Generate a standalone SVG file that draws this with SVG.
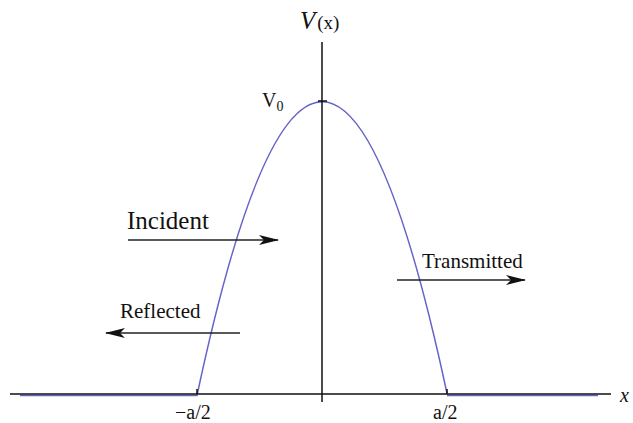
<svg xmlns="http://www.w3.org/2000/svg" width="633" height="423" viewBox="0 0 633 423">
<style>
text{font-family:"Liberation Serif","Times New Roman",serif;fill:#111}
.ax{stroke:#111;stroke-width:1.5;fill:none}
.cv{stroke:#6464c8;stroke-width:1.5;fill:none}
.ar{stroke:#222;stroke-width:1.5;fill:none;marker-end:url(#ah)}
</style>
<defs>
<marker id="ah" viewBox="0 0 20 10" refX="19" refY="5" markerWidth="20" markerHeight="10" markerUnits="userSpaceOnUse" orient="auto">
<path d="M0,0 L20,5 L0,10 L5,5 Z" fill="#111"/>
</marker>
</defs>
<rect width="633" height="423" fill="#fff"/>
<g id="curve">
<path class="cv" d="M20,395.5 H197 Q322,-191 447,393.5 M447,395.5 H598"/>
</g>
<g id="axes">
<path class="ax" d="M10,394 H611"/>
<path class="ax" d="M322,42 V402"/>
<path class="ax" d="M318,101 H327"/>
<path class="ax" d="M197,394 V389 M447,394 V389"/>
</g>
<g id="labels">
<text x="300" y="29" font-size="25"><tspan font-style="italic">V</tspan><tspan font-size="19" dx="2">(x)</tspan></text>
<text x="262" y="107" font-size="20">V<tspan font-size="14" dy="4">0</tspan></text>
<text x="175" y="419" font-size="20">−a/2</text>
<text x="433" y="419" font-size="20">a/2</text>
<text x="620" y="402" font-size="20" font-style="italic">x</text>
</g>
<g id="connectors">
<path class="ar" d="M128,240 H278"/>
<path class="ar" d="M240,333 H106"/>
<path class="ar" d="M397,280 H525"/>
</g>
<g id="incident"><text x="127" y="229" font-size="25">Incident</text></g>
<g id="reflected"><text x="120" y="318" font-size="21">Reflected</text></g>
<g id="transmitted"><text x="422" y="268" font-size="21">Transmitted</text></g>
</svg>
